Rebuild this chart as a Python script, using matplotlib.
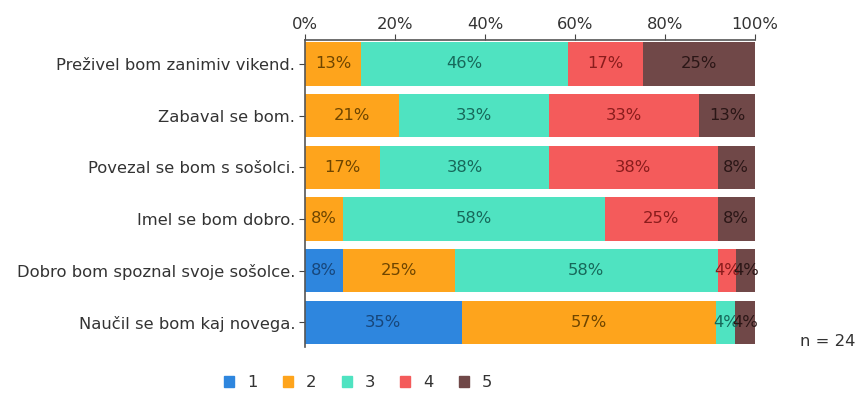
import matplotlib.pyplot as plt
import numpy as np
from matplotlib.patches import Patch

# categories (top to bottom) and answer counts per grade 1..5
categories = [
    "Preživel bom zanimiv vikend.",
    "Zabaval se bom.",
    "Povezal se bom s sošolci.",
    "Imel se bom dobro.",
    "Dobro bom spoznal svoje sošolce.",
    "Naučil se bom kaj novega.",
]
grades = ["1", "2", "3", "4", "5"]
counts_1 = [0, 0, 0, 0, 2, 8]
counts_2 = [3, 5, 4, 2, 6, 13]
counts_3 = [11, 8, 9, 14, 14, 1]
counts_4 = [4, 8, 9, 6, 1, 0]
counts_5 = [6, 3, 2, 2, 1, 1]
n_label = "n = 24"

colors = ["#2e86de", "#fea41c", "#4fe3c1", "#f45b5b", "#704848"]
text_colors = ["#17467a", "#6e4500", "#17685a", "#8a1c1c", "#2a1616"]

counts = np.array([counts_1, counts_2, counts_3, counts_4, counts_5], dtype=float)
pct = counts / counts.sum(axis=0) * 100

fs = 11.8
fig = plt.figure(figsize=(8.57, 3.94), dpi=100)
ax = fig.add_axes([0.356, 0.119, 0.525, 0.779])

y = np.arange(len(categories))
left = np.zeros(len(categories))
for i in range(len(grades)):
    ax.barh(y, pct[i], left=left, height=0.84, color=colors[i])
    for j in range(len(categories)):
        if pct[i, j] > 0:
            label = f"{int(np.floor(pct[i, j] + 0.5))}%"
            ax.text(left[j] + pct[i, j] / 2, y[j], label,
                    ha="center", va="center", fontsize=fs, color=text_colors[i])
    left += pct[i]

ax.set_xlim(0, 100)
ax.set_ylim(5.48, -0.46)
ax.set_yticks(y)
ax.set_yticklabels(categories, fontsize=fs, color="#333333")
ax.xaxis.tick_top()
ax.set_xticks([0, 20, 40, 60, 80, 100])
ax.set_xticklabels([f"{v}%" for v in [0, 20, 40, 60, 80, 100]], fontsize=fs, color="#333333")
ax.tick_params(axis="x", length=4, color="#444444", pad=2)
ax.tick_params(axis="y", length=4, color="#444444", pad=3)
ax.spines["right"].set_visible(False)
ax.spines["bottom"].set_visible(False)
ax.spines["top"].set_color("#555555")
ax.spines["left"].set_color("#555555")
ax.spines["top"].set_linewidth(1.2)
ax.spines["left"].set_linewidth(1.2)

handles = [Patch(color=c) for c in colors]
fig.legend(handles, grades, loc="center", bbox_to_anchor=(0.418, 0.028), ncol=5,
           frameon=False, fontsize=fs, handlelength=0.6, handleheight=0.6,
           columnspacing=1.55, handletextpad=0.8, labelcolor="#333333")

fig.text(0.933, 0.122, n_label, fontsize=fs, color="#333333")

fig.savefig("out.png", dpi=100)
